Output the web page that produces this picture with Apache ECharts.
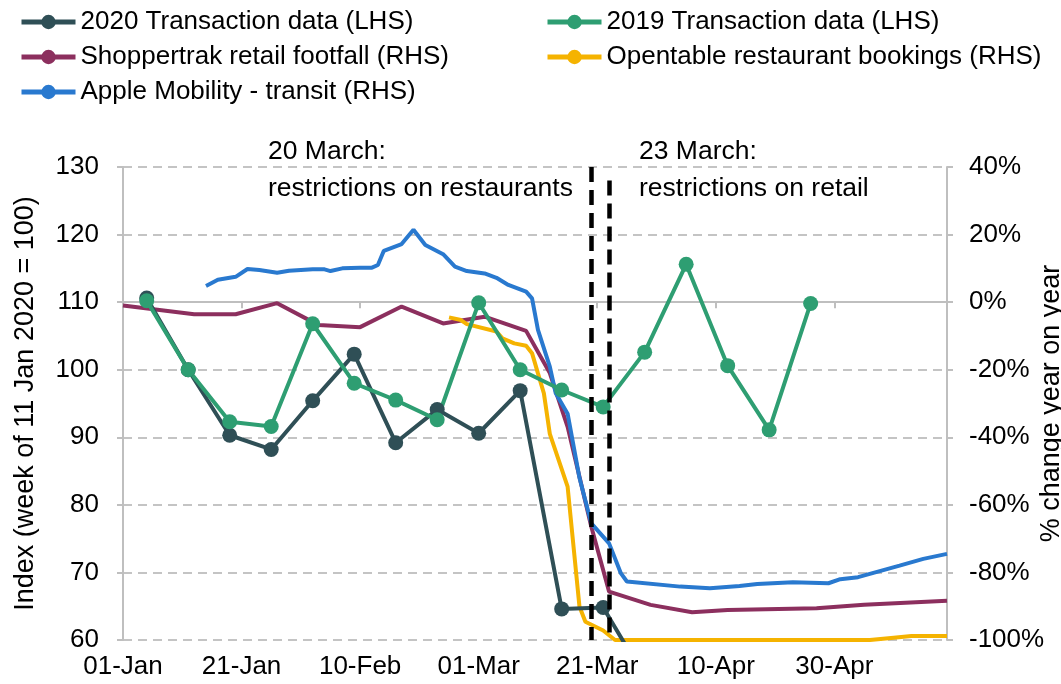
<!DOCTYPE html>
<html>
<head>
<meta charset="utf-8">
<script src="https://cdn.jsdelivr.net/npm/echarts@6/dist/echarts.min.js"></script>
<style>
  html, body { margin: 0; padding: 0; background: #fff; }
  #chart { width: 1061px; height: 684px; }
</style>
</head>
<body>
<div id="chart"></div>
<script>
// weekly transaction data (LHS, index)
const weeks = ['2020-01-05', '2020-01-12', '2020-01-19', '2020-01-26', '2020-02-02', '2020-02-09',
  '2020-02-16', '2020-02-23', '2020-03-01', '2020-03-08', '2020-03-15', '2020-03-22', '2020-03-29',
  '2020-04-05', '2020-04-12', '2020-04-19', '2020-04-26'];
const tx2020 = [110.6, 100, 90.3, 88.2, 95.4, 102.3, 89.2, 94.1, 90.6, 96.9, 64.6, 64.8, 54.5];
const tx2019 = [110.2, 100, 92.3, 91.6, 106.8, 98.0, 95.5, 92.6, 109.9, 100.0, 97.0, 94.5, 102.6,
  115.6, 100.6, 91.1, 109.8];

// Shoppertrak retail footfall (RHS, % yoy)
const footfallDates = ['2020-01-01', '2020-01-13', '2020-01-20', '2020-01-27', '2020-02-03', '2020-02-10',
  '2020-02-17', '2020-02-24', '2020-03-02', '2020-03-09', '2020-03-13', '2020-03-16', '2020-03-20',
  '2020-03-23', '2020-03-30', '2020-04-06', '2020-04-12', '2020-04-27', '2020-05-05', '2020-05-19'];
const footfall = [-1.0, -3.6, -3.6, -0.3, -6.8, -7.4, -1.3, -6.3, -4.3, -8.5, -21, -36.9, -66.5,
  -85.7, -89.6, -91.8, -91.1, -90.6, -89.6, -88.4];

// Opentable restaurant bookings (RHS, % yoy)
const bookingDates = ['2020-02-25', '2020-02-27', '2020-02-28', '2020-03-04', '2020-03-05', '2020-03-07',
  '2020-03-09', '2020-03-10', '2020-03-11', '2020-03-12', '2020-03-13', '2020-03-16', '2020-03-18',
  '2020-03-19', '2020-03-22', '2020-03-24', '2020-05-06', '2020-05-10', '2020-05-13', '2020-05-19'];
const bookings = [-4.5, -5.3, -6.5, -8.7, -10.7, -12.2, -12.9, -15.1, -21.1, -27, -39, -54.6, -90.1,
  -94.6, -97.2, -100, -100, -99.3, -98.8, -98.8];

// Apple Mobility - transit (RHS, % yoy)
const mobilityDates = ['2020-01-15', '2020-01-17', '2020-01-20', '2020-01-22', '2020-01-24', '2020-01-27',
  '2020-01-29', '2020-02-02', '2020-02-04', '2020-02-05', '2020-02-07', '2020-02-10', '2020-02-12',
  '2020-02-13', '2020-02-14', '2020-02-17', '2020-02-19', '2020-02-21', '2020-02-24', '2020-02-26',
  '2020-02-28', '2020-03-02', '2020-03-04', '2020-03-06', '2020-03-09', '2020-03-10', '2020-03-11',
  '2020-03-13', '2020-03-14', '2020-03-16', '2020-03-18', '2020-03-20', '2020-03-23', '2020-03-25',
  '2020-03-26', '2020-04-04', '2020-04-09', '2020-04-14', '2020-04-17', '2020-04-23', '2020-04-29',
  '2020-05-01', '2020-05-04', '2020-05-11', '2020-05-15', '2020-05-19'];
const mobility = [4.8, 6.6, 7.5, 9.8, 9.5, 8.7, 9.3, 9.7, 9.7, 9.2, 10.0, 10.2, 10.2, 11.0, 15.2, 17.2,
  21.4, 16.9, 14.2, 10.5, 9.2, 8.5, 7.2, 5.1, 3.1, 1.1, -8.2, -19.1, -27, -33, -52, -65.5, -71.4, -80.3,
  -82.7, -84.2, -84.7, -84.0, -83.4, -82.9, -83.2, -82.0, -81.4, -78.0, -76.0, -74.5];

// event markers
const events = [
  { date: '2020-03-20', top: 130, text: '20 March:\nrestrictions on restaurants' },
  { date: '2020-03-23', top: 128, text: '23 March:\nrestrictions on retail' }
];

const names = ['2020 Transaction data (LHS)', '2019 Transaction data (LHS)',
  'Shoppertrak retail footfall (RHS)', 'Opentable restaurant bookings (RHS)', 'Apple Mobility - transit (RHS)'];
const colors = ['#2f4f56', '#2e9e72', '#8c2f5e', '#f5b300', '#2979cf'];
const months = ['Jan', 'Feb', 'Mar', 'Apr', 'May', 'Jun'];
const FONT = "'Liberation Sans', Arial, sans-serif";

const start = Date.UTC(2020, 0, 1);
function dayNum(s) {
  const p = s.split('-').map(Number);
  return (Date.UTC(p[0], p[1] - 1, p[2]) - start) / 864e5;
}
function dayLabel(d) {
  const dt = new Date(start + d * 864e5);
  const dd = String(dt.getUTCDate()).padStart(2, '0');
  return dd + '-' + months[dt.getUTCMonth()];
}
function pairs(dates, vals) {
  return vals.map((v, i) => [dayNum(dates[i]), v]);
}

const chart = echarts.init(document.getElementById('chart'));

const legendPos = [[19, 9], [545, 9], [19, 44], [545, 44], [19, 79]];

const option = {
  animation: false,
  textStyle: { fontFamily: FONT },
  legend: names.map((n, i) => ({
    data: [n],
    left: legendPos[i][0],
    top: legendPos[i][1],
    padding: 0,
    itemWidth: 54,
    itemHeight: 18,
    selectedMode: false,
    lineStyle: { width: 5 },
    textStyle: { fontSize: 26, color: '#000', fontFamily: FONT }
  })),
  grid: { left: 123, right: 114, top: 167, bottom: 44, containLabel: false, outerBoundsMode: 'none' },
  xAxis: {
    type: 'value',
    min: 0,
    max: 139,
    interval: 20,
    axisLine: { lineStyle: { color: '#bfbfbf', width: 2 } },
    axisTick: { show: true, length: 6, lineStyle: { color: '#bfbfbf', width: 2 } },
    splitLine: { show: false },
    axisLabel: {
      showMaxLabel: false,
      margin: 14,
      fontSize: 26,
      color: '#000',
      fontFamily: FONT,
      formatter: (v) => (v % 20 === 0 ? dayLabel(v) : '')
    }
  },
  yAxis: [
    {
      type: 'value',
      min: 60,
      max: 130,
      interval: 10,
      name: 'Index (week of 11 Jan 2020 = 100)',
      nameLocation: 'middle',
      nameGap: 84,
      nameMoveOverlap: false,
      nameTextStyle: { fontSize: 27, color: '#000', fontFamily: FONT },
      axisLine: { show: true, lineStyle: { color: '#bfbfbf', width: 2 } },
      axisTick: { show: true, length: 6, lineStyle: { color: '#bfbfbf', width: 2 } },
      axisLabel: { margin: 24, fontSize: 26, color: '#000', fontFamily: FONT },
      splitLine: { show: true, lineStyle: { color: '#c4c4c4', width: 2, type: [9, 6] } }
    },
    {
      type: 'value',
      min: -100,
      max: 40,
      interval: 20,
      name: '% change year on year',
      nameLocation: 'middle',
      nameGap: 91,
      nameMoveOverlap: false,
      nameTextStyle: { fontSize: 27, color: '#000', fontFamily: FONT },
      axisLine: { show: true, lineStyle: { color: '#bfbfbf', width: 2 } },
      axisTick: { show: true, length: 6, lineStyle: { color: '#bfbfbf', width: 2 } },
      axisLabel: { margin: 22, fontSize: 26, color: '#000', fontFamily: FONT, formatter: '{value}%' },
      splitLine: { show: false }
    }
  ],
  graphic: [
    {
      type: 'text', left: 268, top: 133, z: 100,
      style: { text: events[0].text, font: '26.5px ' + FONT, lineHeight: 37, fill: '#000' }
    },
    {
      type: 'text', left: 639, top: 133, z: 100,
      style: { text: events[1].text, font: '26.5px ' + FONT, lineHeight: 37, fill: '#000' }
    }
  ],
  series: [
    {
      name: names[0], type: 'line', yAxisIndex: 0, z: 3,
      data: pairs(weeks, tx2020),
      symbol: 'circle', symbolSize: 15,
      lineStyle: { width: 4, color: colors[0] },
      itemStyle: { color: colors[0] }
    },
    {
      name: names[1], type: 'line', yAxisIndex: 0, z: 3,
      data: pairs(weeks, tx2019),
      symbol: 'circle', symbolSize: 15,
      lineStyle: { width: 4, color: colors[1] },
      itemStyle: { color: colors[1] },
      markLine: {
        silent: true,
        symbol: 'none',
        label: { show: false },
        lineStyle: { color: '#000', width: 4.5, type: [15, 8] },
        data: events.map((e) => [
          { coord: [dayNum(e.date), e.top] },
          { coord: [dayNum(e.date), 60] }
        ])
      }
    },
    {
      name: names[2], type: 'line', yAxisIndex: 1, z: 2,
      data: pairs(footfallDates, footfall),
      showSymbol: false, symbol: 'none',
      lineStyle: { width: 4, color: colors[2] },
      itemStyle: { color: colors[2] }
    },
    {
      name: names[3], type: 'line', yAxisIndex: 1, z: 2,
      data: pairs(bookingDates, bookings),
      showSymbol: false, symbol: 'none',
      lineStyle: { width: 4, color: colors[3] },
      itemStyle: { color: colors[3] }
    },
    {
      name: names[4], type: 'line', yAxisIndex: 1, z: 2,
      data: pairs(mobilityDates, mobility),
      showSymbol: false, symbol: 'none',
      lineStyle: { width: 4, color: colors[4] },
      itemStyle: { color: colors[4] }
    }
  ]
};

chart.setOption(option);
</script>
</body>
</html>
